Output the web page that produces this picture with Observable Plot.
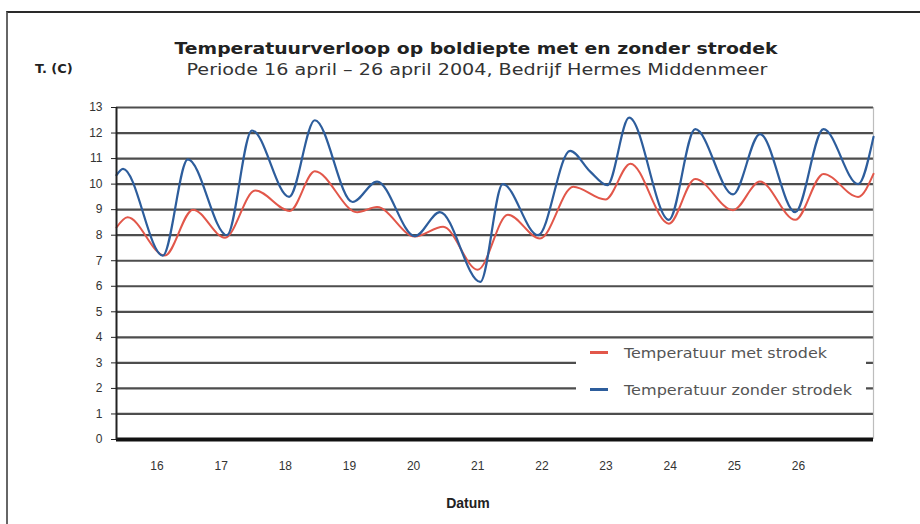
<!DOCTYPE html>
<html>
<head>
<meta charset="utf-8">
<script src="https://cdn.jsdelivr.net/npm/d3@7"></script>
<script src="https://cdn.jsdelivr.net/npm/@observablehq/plot@0.6"></script>
<style>
  body { margin: 0; background: #fff; }
  #wrap { position: relative; width: 920px; height: 524px; overflow: hidden; background: #fff; }
  #frame { position: absolute; left: 6px; top: 11px; width: 940px; height: 540px;
           border-top: 2px solid #2a2a2a; border-left: 2px solid #666; }
  .t { position: absolute; white-space: nowrap; font-family: "DejaVu Sans", Verdana, sans-serif; color: #222; }
  #title { left: 476px; top: 41px; font-size: 16px; font-weight: bold; line-height: 16px; }
  #subtitle { left: 477px; top: 62px; font-size: 16px; line-height: 16px; color: #333; }
  #ylab { left: 35px; top: 61px; font-size: 13px; font-weight: bold; line-height: 16px; }
  #xlab { left: 468px; top: 495px; font-family: "Liberation Sans", Arial, sans-serif; font-size: 14px; font-weight: bold; line-height: 16px; }
  #legend { position: absolute; left: 576px; top: 341px; width: 290px; height: 67px; background: #fff; }
  .item { position: absolute; left: 14px; height: 16px; white-space: nowrap; }
  .sw { position: absolute; left: 0; top: 6px; width: 18px; height: 3px; }
  .lt { position: absolute; left: 34px; top: 0; font-family: "DejaVu Sans", Verdana, sans-serif; font-size: 13.5px; color: #555; line-height: 16px; transform-origin: 0 50%; }
</style>
</head>
<body>
<div id="wrap">
  <div id="chart"></div>
  <div id="frame"></div>
  <div class="t" id="title"></div>
  <div class="t" id="subtitle"></div>
  <div class="t" id="ylab"></div>
  <div class="t" id="xlab"></div>
  <div id="legend"></div>
</div>
<script>
// ---- tekst ----
const titel = "Temperatuurverloop op boldiepte met en zonder strodek";
const ondertitel = "Periode 16 april \u2013 26 april 2004, Bedrijf Hermes Middenmeer";
const yAsTitel = "T. (C)";
const xAsTitel = "Datum";
const reeksen = ["Temperatuur met strodek", "Temperatuur zonder strodek"];
const kleuren = ["#e2574a", "#2d5d9c"];

// ---- assen ----
const dagen = [16, 17, 18, 19, 20, 21, 22, 23, 24, 25, 26];   // datumlabels (april)
const yTicks = [0, 1, 2, 3, 4, 5, 6, 7, 8, 9, 10, 11, 12, 13];
const xBereik = [15.868, 27.67];                              // dag van april (decimaal)

// ---- meetwaarden (tijd = dag van april, decimaal) ----
const tMet   = [15.868, 16.04, 16.62, 17.06, 17.56, 18.03, 18.57, 18.96, 19.62, 19.93, 20.52, 20.96, 21.50, 21.97, 22.47, 22.99, 23.49, 23.88, 24.48, 24.89, 25.48, 25.90, 26.45, 26.89, 27.43, 27.67];
const vMet   = [8.3,    8.7,   7.2,   9.0,   7.9,   9.75,  8.95,  10.5,  8.9,   9.1,   7.95,  8.33,  6.65,  8.8,   7.87,  9.9,   9.4,   10.8,  8.45,  10.2,  8.98,  10.1,  8.6,   10.4,  9.5,   10.4];
const tZonder = [15.868, 15.97, 16.59, 16.98, 17.59, 17.98, 18.56, 18.96, 19.55, 19.93, 20.52, 20.91, 21.54, 21.89, 22.44, 22.94, 23.25, 23.52, 23.86, 24.48, 24.89, 25.48, 25.90, 26.45, 26.89, 27.43, 27.67];
const vZonder = [10.35,  10.6,  7.2,   10.97, 8.0,   12.1,  9.5,   12.5,  9.3,   10.1,  7.96,  8.9,   6.17,  10.0,  8.0,   11.3,  10.5,  9.96,  12.6,  8.6,   12.15, 9.6,   11.96, 8.9,   12.15, 10.0,  11.85];

const met = tMet.map((t, i) => ({t, v: vMet[i], reeks: reeksen[0]}));
const zonder = tZonder.map((t, i) => ({t, v: vZonder[i], reeks: reeksen[1]}));

const chart = Plot.plot({
  width: 920,
  height: 524,
  marginLeft: 116,
  marginRight: 47,
  marginTop: 107,
  marginBottom: 85,
  x: {domain: xBereik, label: null},
  y: {domain: [0, 13], label: null},
  style: {fontFamily: "'Liberation Sans', Arial, sans-serif", fontSize: "12px", color: "#333", background: "transparent", overflow: "visible"},
  marks: [
    Plot.ruleY(yTicks.filter(d => d > 0), {stroke: "#4d4d4d", strokeWidth: 2.2}),
    Plot.ruleX([xBereik[1]], {y1: 0, y2: 13, stroke: "#bdbdbd", strokeWidth: 1.2}),
    Plot.lineY(met, {x: "t", y: "v", stroke: kleuren[0], strokeWidth: 2, curve: "monotone-x"}),
    Plot.lineY(zonder, {x: "t", y: "v", stroke: kleuren[1], strokeWidth: 2.2, curve: "monotone-x"}),
    Plot.ruleY([0], {stroke: "#111", strokeWidth: 4}),
    Plot.ruleX([xBereik[0]], {y1: 0, y2: 13, stroke: "#222", strokeWidth: 2}),
    Plot.axisY({ticks: yTicks, tickSize: 5, tickPadding: 9, tickFormat: d => String(d), stroke: "#222", label: null}),
    Plot.axisX({ticks: dagen.map(d => d + 0.5), tickFormat: d => String(Math.floor(d)), tickSize: 0, tickPadding: 22, label: null})
  ]
});
document.getElementById("chart").appendChild(chart);

// tekst plaatsen en op de breedte van het origineel brengen
function centerFit(id, text, target) {
  const el = document.getElementById(id);
  el.textContent = text;
  const w = el.getBoundingClientRect().width;
  const s = target ? target / w : 1;
  el.style.transform = `translateX(-50%) scaleX(${s})`;
}
centerFit("title", titel, 603);
centerFit("subtitle", ondertitel, 581);
centerFit("xlab", xAsTitel, null);
document.getElementById("ylab").textContent = yAsTitel;

const legendBreedte = [203, 228];
const legend = document.getElementById("legend");
reeksen.forEach((naam, i) => {
  const item = document.createElement("div");
  item.className = "item";
  item.style.top = (i === 0 ? 4 : 41) + "px";
  const sw = document.createElement("div");
  sw.className = "sw";
  sw.style.background = kleuren[i];
  const lt = document.createElement("div");
  lt.className = "lt";
  lt.textContent = naam;
  item.appendChild(sw);
  item.appendChild(lt);
  legend.appendChild(item);
  const w = lt.getBoundingClientRect().width;
  lt.style.transform = `scaleX(${legendBreedte[i] / w})`;
});
</script>
</body>
</html>
